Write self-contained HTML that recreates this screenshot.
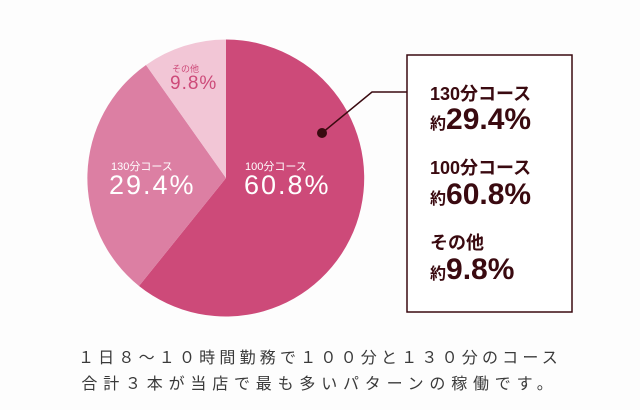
<!DOCTYPE html>
<html><head><meta charset="utf-8"><style>
body{margin:0;background:#fdfdfd;}
.w{position:relative;width:640px;height:410px;overflow:hidden;background:#fdfdfd;font-family:"Liberation Sans","Noto Sans CJK JP",sans-serif;}
.t{position:absolute;white-space:nowrap;}
.b{position:absolute;left:0;width:640px;text-align:center;font-size:16px;color:#3a3a3a;white-space:nowrap;}
</style></head><body><div class="w">
<svg width="640" height="410" style="position:absolute;left:0;top:0">
<path d="M226,178 L226,39.5 A138.5,138.5 0 1 1 139,286 Z" fill="#cd4a79"/>
<path d="M226,178 L139,286 A138.5,138.5 0 0 1 146,65 Z" fill="#dc7fa3"/>
<path d="M226,178 L146,65 A138.5,138.5 0 0 1 226,39.5 Z" fill="#f2c6d6"/>
<polyline points="322,133 372,92 407,92" fill="none" stroke="#3a0a10" stroke-width="1.5"/>
<circle cx="322" cy="133" r="5" fill="#3a0a10"/>
<rect x="407" y="55" width="165" height="257" fill="#fff" stroke="#3a0a10" stroke-width="1.5"/>
</svg>
<div class="t" style="left:172px;top:62px;font-size:9px;color:#cd4a79">その他</div>
<div class="t" style="left:170px;top:73px;font-size:19px;color:#cd4a79;letter-spacing:1px">9.8%</div>
<div class="t" style="left:111px;top:158px;font-size:11px;color:#fff">130分コース</div>
<div class="t" style="left:109px;top:170px;font-size:27px;color:#fff;letter-spacing:2px">29.4%</div>
<div class="t" style="left:245px;top:158px;font-size:11px;color:#fff">100分コース</div>
<div class="t" style="left:244px;top:170px;font-size:27px;color:#fff;letter-spacing:2px">60.8%</div>
<div class="t" style="left:430px;top:80px;font-size:18px;font-weight:bold;color:#3a0a10">130分コース</div>
<div class="t" style="left:430px;top:103px;font-size:16px;font-weight:bold;color:#3a0a10">約<span style="font-size:30px">29.4%</span></div>
<div class="t" style="left:430px;top:154px;font-size:18px;font-weight:bold;color:#3a0a10">100分コース</div>
<div class="t" style="left:430px;top:178px;font-size:16px;font-weight:bold;color:#3a0a10">約<span style="font-size:30px">60.8%</span></div>
<div class="t" style="left:430px;top:229px;font-size:18px;font-weight:bold;color:#3a0a10">その他</div>
<div class="t" style="left:430px;top:253px;font-size:16px;font-weight:bold;color:#3a0a10">約<span style="font-size:30px">9.8%</span></div>
<div class="b" style="top:344px;letter-spacing:4.2px">１日８～１０時間勤務で１００分と１３０分のコース</div>
<div class="b" style="top:370px;letter-spacing:5.8px">合計３本が当店で最も多いパターンの稼働です。</div>
</div></body></html>
